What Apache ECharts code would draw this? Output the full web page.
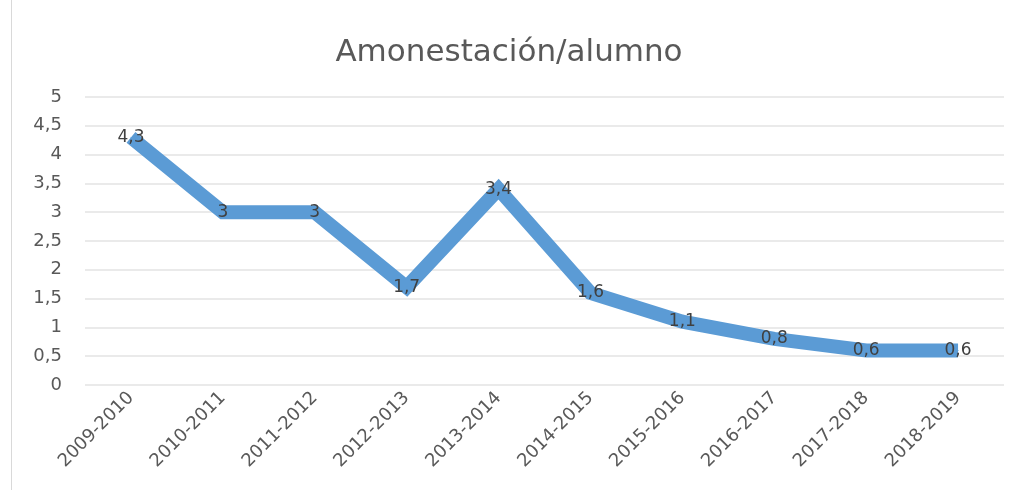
<!DOCTYPE html>
<html>
<head>
<meta charset="utf-8">
<script src="https://cdn.jsdelivr.net/npm/echarts@6/dist/echarts.min.js"></script>
<style>
  html, body { margin: 0; padding: 0; background: #fff; }
  #chart { width: 1018px; height: 490px; }
  #frame { position: absolute; left: 11px; top: -2px; width: 1100px; height: 600px; border: 1px solid #d9d9d9; box-sizing: border-box; pointer-events: none; }
</style>
</head>
<body>
<div id="chart"></div>
<div id="frame"></div>
<script>
  var categories = ['2009-2010', '2010-2011', '2011-2012', '2012-2013', '2013-2014',
    '2014-2015', '2015-2016', '2016-2017', '2017-2018', '2018-2019'];
  var values = [4.3, 3, 3, 1.7, 3.4, 1.6, 1.1, 0.8, 0.6, 0.6];
  var titleText = 'Amonestación/alumno';

  function comma(v) {
    return String(v).replace('.', ',');
  }

  var font = 'DejaVu Sans';
  var myChart = echarts.init(document.getElementById('chart'));
  myChart.setOption({
    animation: false,
    title: {
      text: titleText,
      left: 'center',
      top: 32,
      textStyle: {
        color: '#595959',
        fontSize: 31,
        fontWeight: 'normal',
        fontFamily: font
      }
    },
    grid: {
      top: 97,
      bottom: 105,
      left: 85,
      right: 14
    },
    xAxis: {
      type: 'category',
      data: categories,
      axisLine: { show: false },
      axisTick: { show: false },
      axisLabel: {
        rotate: 45,
        color: '#595959',
        fontSize: 18,
        fontFamily: font,
        margin: 10,
        interval: 0
      }
    },
    yAxis: {
      type: 'value',
      min: 0,
      max: 5,
      interval: 0.5,
      axisLine: { show: false },
      axisTick: { show: false },
      splitLine: {
        lineStyle: { color: '#e3e3e3', width: 1.5 }
      },
      axisLabel: {
        color: '#595959',
        fontSize: 18,
        fontFamily: font,
        margin: 23,
        formatter: function (v) { return comma(v); }
      }
    },
    series: [{
      type: 'line',
      data: values,
      symbol: 'circle',
      symbolSize: 1,
      itemStyle: { color: '#5b9bd5' },
      lineStyle: { color: '#5b9bd5', width: 14, join: 'miter' },
      label: {
        show: true,
        position: 'inside',
        color: '#404040',
        fontSize: 17,
        fontFamily: font,
        formatter: function (p) { return comma(p.value); }
      }
    }]
  });
</script>
</body>
</html>
